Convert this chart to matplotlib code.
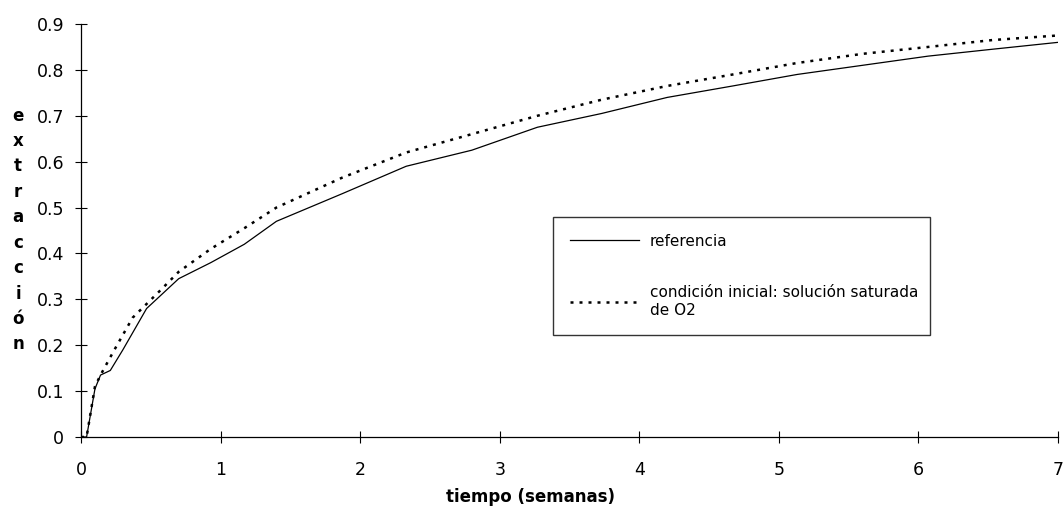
import matplotlib.pyplot as plt

# data (time in weeks, extraction fraction)
t_ref = [0, 0.04, 0.1, 0.14, 0.21, 0.3, 0.47, 0.7, 0.93, 1.17, 1.4, 1.87, 2.33,
         2.8, 3.27, 3.73, 4.2, 4.67, 5.13, 5.6, 6.07, 6.53, 7]
y_ref = [0, 0, 0.105, 0.135, 0.145, 0.19, 0.28, 0.345, 0.38, 0.42, 0.47, 0.53, 0.59,
         0.625, 0.675, 0.705, 0.74, 0.765, 0.79, 0.81, 0.83, 0.845, 0.86]

t_sat = [0, 0.04, 0.1, 0.14, 0.23, 0.37, 0.47, 0.57, 0.7, 0.93, 1.17, 1.4, 1.87,
         2.33, 2.8, 3.27, 3.73, 4.2, 4.67, 5.13, 5.6, 6.07, 6.53, 7]
y_sat = [0, 0, 0.11, 0.135, 0.185, 0.26, 0.29, 0.32, 0.36, 0.41, 0.455, 0.5, 0.565,
         0.62, 0.66, 0.7, 0.735, 0.765, 0.79, 0.815, 0.835, 0.85, 0.865, 0.875]

x_ticks = [0, 1, 2, 3, 4, 5, 6, 7]
y_ticks = [0, 0.1, 0.2, 0.3, 0.4, 0.5, 0.6, 0.7, 0.8, 0.9]

plt.rcParams['font.family'] = ['DejaVu Sans']

fig = plt.figure(figsize=(10.64, 5.18), dpi=100)
ax = fig.add_axes([81 / 1064, 1 - 437 / 518, (1058 - 81) / 1064, (437 - 24) / 518])

ax.plot(t_ref, y_ref, color="black", lw=0.9, label="referencia")
ax.plot(t_sat, y_sat, color="black", lw=1.8, linestyle=(0, (1.2, 2.4)),
        label="condición inicial: solución saturada\nde O2")

ax.set_xlim(0, 7)
ax.set_ylim(0, 0.9)
ax.set_xticks(x_ticks)
ax.set_xticklabels([str(v) for v in x_ticks])
ax.set_yticks(y_ticks)
ax.set_yticklabels(["0"] + ["%.1f" % v for v in y_ticks[1:]])
ax.tick_params(direction="inout", length=8, width=0.8, labelsize=12.5)
ax.tick_params(axis="y", pad=8)
ax.tick_params(axis="x", pad=13)
ax.spines["top"].set_visible(False)
ax.spines["right"].set_visible(False)
for s in ["left", "bottom"]:
    ax.spines[s].set_linewidth(0.9)

# stacked vertical y label
fig.text(18 / 1064, 1 - 230 / 518, "\n".join("extracción"), ha="center", va="center",
         fontsize=12, fontweight="bold", linespacing=1.53)
fig.text(530 / 1064, 1 - 497 / 518, "tiempo (semanas)", ha="center", va="center",
         fontsize=12, fontweight="bold")

leg = ax.legend(loc="upper left", mode="expand",
                bbox_to_anchor=(553 / 1064, 1 - 333 / 518, (930 - 553) / 1064, (333 - 217) / 518),
                bbox_transform=fig.transFigure, borderaxespad=0, fontsize=11, frameon=True,
                fancybox=False, edgecolor="black", handlelength=4.5, handletextpad=0.75,
                borderpad=1.1, labelspacing=2.4)
leg.get_frame().set_linewidth(1.0)

fig.savefig("out.png", dpi=100)
